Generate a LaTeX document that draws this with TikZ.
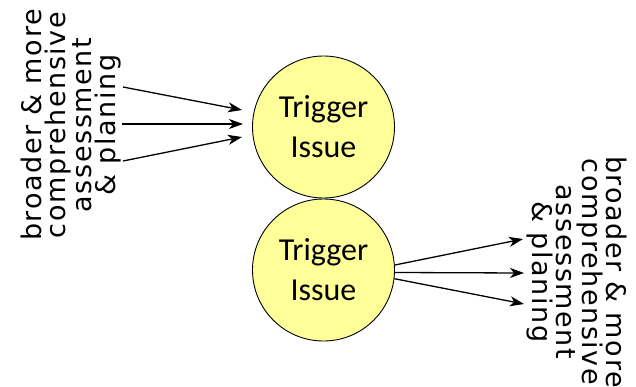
\documentclass[tikz,border=0pt]{standalone}
\usepackage{fontspec}
\setmainfont{Carlito}
\newfontfamily\labelfont{DejaVu Sans}[LetterSpace=6]
\usetikzlibrary{arrows.meta}
\definecolor{trigyellow}{HTML}{FFFF99}
\begin{document}
\begin{tikzpicture}[x=1pt,y=-1pt,
  trig/.style={circle, draw, line width=0.9pt, fill=trigyellow, minimum size=142pt, inner sep=0pt, align=center, font=\fontsize{32}{40}\selectfont},
  lbl/.style={font=\labelfont\fontsize{27}{24}\selectfont, align=center, inner sep=0pt},
  arr/.style={-{Stealth[length=14pt,width=10pt,inset=4pt]}, line width=1.3pt}]
\useasboundingbox (0,0) rectangle (636,386);
\node[trig] (t1) at (323.5,127) {Trigger\\Issue};
\node[trig] (t2) at (323.5,270) {Trigger\\Issue};
\node[lbl, rotate=90] (L) at (71,125) {broader \& more\\comprehensive\\assessment\\\& planing};
\node[lbl, rotate=-90] (R) at (577,272) {broader \& more\\comprehensive\\assessment\\\& planing};
\coordinate (a1s) at (123,87);
\coordinate (a2s) at (122,124);
\coordinate (a3s) at (123,161);
\coordinate (a1e) at (242,110);
\coordinate (a2e) at (243,124);
\coordinate (a3e) at (242,137);
\draw[arr] (a1s) -- (a1e);
\draw[arr] (a2s) -- (a2e);
\draw[arr] (a3s) -- (a3e);
\coordinate (b1e) at (523,239);
\coordinate (b2e) at (524,273);
\coordinate (b3e) at (524,304);
\draw[arr] (t2.4) -- (b1e);
\draw[arr] (t2.-2.5) -- (b2e);
\draw[arr] (t2.-7) -- (b3e);
\end{tikzpicture}
\end{document}
